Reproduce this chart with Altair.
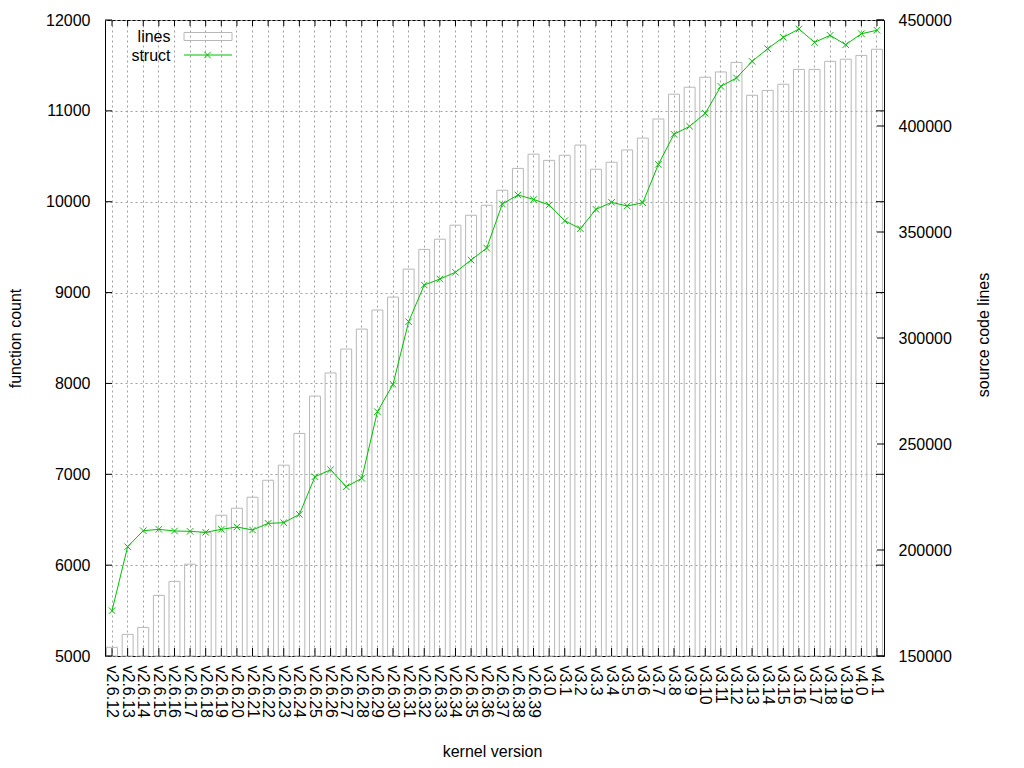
import altair as alt
import pandas as pd

versions = [
    "v2.6.12", "v2.6.13", "v2.6.14", "v2.6.15", "v2.6.16", "v2.6.17", "v2.6.18",
    "v2.6.19", "v2.6.20", "v2.6.21", "v2.6.22", "v2.6.23", "v2.6.24", "v2.6.25",
    "v2.6.26", "v2.6.27", "v2.6.28", "v2.6.29", "v2.6.30", "v2.6.31", "v2.6.32",
    "v2.6.33", "v2.6.34", "v2.6.35", "v2.6.36", "v2.6.37", "v2.6.38", "v2.6.39",
    "v3.0", "v3.1", "v3.2", "v3.3", "v3.4", "v3.5", "v3.6", "v3.7", "v3.8", "v3.9",
    "v3.10", "v3.11", "v3.12", "v3.13", "v3.14", "v3.15", "v3.16", "v3.17", "v3.18",
    "v3.19", "v4.0", "v4.1",
]

# source code lines (right axis, bars)
lines_values = [
    154100, 160200, 163500, 178600, 185200, 193300, 208200, 216400, 219700, 224900,
    232900, 240000, 255000, 272600, 283500, 294800, 304200, 313200, 319300, 332500,
    341800, 346600, 353200, 357900, 362600, 369700, 380000, 386700,
    383800, 386200, 391000, 379600, 382900, 388700, 394300, 403300, 415000, 418300,
    423000, 425500, 430000, 414500, 416800, 419700, 426700, 426700, 430500, 431500,
    433300, 436200,
]

# function count (left axis, line)
struct_values = [
    5499, 6203, 6379, 6394, 6376, 6372, 6361, 6394, 6420, 6387,
    6460, 6467, 6559, 6973, 7050, 6863, 6955, 7689, 7990, 8679,
    9083, 9149, 9223, 9358, 9490, 9975, 10074, 10026,
    9964, 9791, 9703, 9916, 9993, 9953, 9989, 10412, 10742, 10830,
    10973, 11270, 11362, 11545, 11684, 11809, 11901, 11754, 11831, 11728,
    11849, 11887,
]

left_ticks = [5000, 6000, 7000, 8000, 9000, 10000, 11000, 12000]
right_ticks = [150000, 200000, 250000, 300000, 350000, 400000, 450000]
series_names = ["lines", "struct"]

FONT = "Liberation Sans"
GREEN = "#00c000"
BAR_GRAY = "#b8b8b8"
GRID_GRAY = "#a0a0a0"
W, H = 779, 636
XPATH = "M-1,-1L1,1M-1,1L1,-1"

df = pd.DataFrame({"version": versions, "lines": lines_values, "struct": struct_values})

x_scale = alt.Scale(type="band", paddingInner=0.3, paddingOuter=0.1)
left_scale = alt.Scale(domain=[left_ticks[0], left_ticks[-1]], nice=False, zero=False)
right_scale = alt.Scale(domain=[right_ticks[0], right_ticks[-1]], nice=False, zero=False)

x_axis = alt.Axis(
    title="kernel version", labelAngle=90, labelAlign="left",
    labelBaseline="middle", labelPadding=9, ticks=False, tickSize=0,
    domain=False, grid=True, gridDash=[2, 3], gridColor=GRID_GRAY,
    bandPosition=0.5, labelFontSize=16, labelFont=FONT, labelColor="black",
    labelOverlap=False, titleFontSize=16, titleFont=FONT,
    titleFontWeight="normal", titleColor="black", titleX=387, titleY=100,
    titleBaseline="alphabetic", titleAlign="center",
)


def xc():
    return alt.X("version:N", sort=versions, scale=x_scale, bandPosition=0.5,
                 title="kernel version", axis=x_axis)


bars = alt.Chart(df).mark_bar(fillOpacity=0, stroke=BAR_GRAY, strokeWidth=1).encode(
    x=alt.X("version:N", sort=versions, scale=x_scale, title="kernel version", axis=x_axis),
    y=alt.Y(
        "lines:Q", scale=right_scale,
        axis=alt.Axis(
            orient="right", title="source code lines", values=right_ticks,
            format="d", grid=False, ticks=False, tickSize=0, domain=False,
            labelPadding=14, labelFontSize=16, labelFont=FONT, labelColor="black",
            titleAngle=270, titleX=104.5, titleY=314.5, titleBaseline="alphabetic",
            titleAlign="center", titleFontSize=16, titleFont=FONT,
            titleFontWeight="normal", titleColor="black",
        ),
    ),
    y2=alt.datum(right_ticks[0]),
)

line = alt.Chart(df).mark_line(color=GREEN, strokeWidth=1).encode(
    x=xc(),
    y=alt.Y(
        "struct:Q", scale=left_scale,
        axis=alt.Axis(
            orient="left", title="function count", values=left_ticks, format="d",
            grid=True, gridDash=[2, 3], gridColor=GRID_GRAY, ticks=False,
            tickSize=0, domain=False, labelPadding=15, labelFontSize=16,
            labelFont=FONT, labelColor="black", titleAngle=270, titleX=-85,
            titleY=318, titleBaseline="alphabetic", titleAlign="center",
            titleFontSize=16, titleFont=FONT, titleFontWeight="normal",
            titleColor="black",
        ),
    ),
)

points = alt.Chart(df).mark_point(
    shape=XPATH, filled=False, color=GREEN, size=42, strokeWidth=1, opacity=1
).encode(x=xc(), y=alt.Y("struct:Q", scale=left_scale, axis=None))

xt_bottom = alt.Chart(df).mark_rule(color="black", strokeWidth=1).encode(
    x=xc(), y=alt.value(H - 8), y2=alt.value(H)
)
xt_top = alt.Chart(df).mark_rule(color="black", strokeWidth=1).encode(
    x=xc(), y=alt.value(0), y2=alt.value(6)
)

lt_df = pd.DataFrame({"v": left_ticks})
rt_df = pd.DataFrame({"v": right_ticks})
yl_left = alt.Chart(lt_df).mark_rule(color="black").encode(
    y=alt.Y("v:Q", scale=left_scale, axis=None), x=alt.value(0), x2=alt.value(7)
)
yl_mirror = alt.Chart(lt_df).mark_rule(color="black").encode(
    y=alt.Y("v:Q", scale=left_scale, axis=None), x=alt.value(W - 8), x2=alt.value(W)
)
yr_ticks = alt.Chart(rt_df).mark_rule(color="black").encode(
    y=alt.Y("v:Q", scale=right_scale, axis=None), x=alt.value(W - 7), x2=alt.value(W)
)

leg1 = pd.DataFrame({"label": [series_names[0]]})
leg2 = pd.DataFrame({"label": [series_names[1]]})
leg_text1 = alt.Chart(leg1).mark_text(
    align="right", baseline="alphabetic", font=FONT, fontSize=16, color="black"
).encode(text="label:N", x=alt.value(65.5), y=alt.value(21.7))
leg_box = alt.Chart(leg1).mark_rect(
    fillOpacity=0, stroke=BAR_GRAY, strokeWidth=1
).encode(x=alt.value(79), x2=alt.value(127), y=alt.value(12.5), y2=alt.value(20.5))
leg_text2 = alt.Chart(leg2).mark_text(
    align="right", baseline="alphabetic", font=FONT, fontSize=16, color="black"
).encode(text="label:N", x=alt.value(65.5), y=alt.value(40.7))
leg_line = alt.Chart(leg2).mark_rule(color=GREEN, strokeWidth=1).encode(
    x=alt.value(79), x2=alt.value(127), y=alt.value(35)
)
leg_pt = alt.Chart(leg2).mark_point(
    shape=XPATH, filled=False, color=GREEN, size=42, strokeWidth=1, opacity=1
).encode(x=alt.value(102.5), y=alt.value(35))

chart = alt.layer(
    bars, line, points, xt_bottom, xt_top, yl_left, yl_mirror, yr_ticks,
    leg_text1, leg_box, leg_text2, leg_line, leg_pt,
).resolve_scale(y="independent").properties(
    width=W, height=H,
    padding={"left": 97, "top": 12, "right": 116, "bottom": 104},
    autosize="none",
    background="white",
).configure_view(stroke="black", strokeWidth=1)

chart.save("out.html", embed_options={"renderer": "svg", "actions": False})
